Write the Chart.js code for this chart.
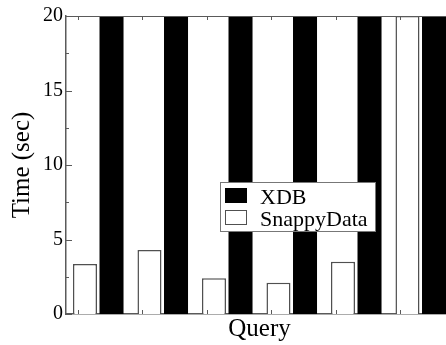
<!DOCTYPE html>
<html>
<head>
<meta charset="utf-8">
<script src="https://cdn.jsdelivr.net/npm/chart.js@4.4.0/dist/chart.umd.min.js"></script>
<style>
  html, body { margin: 0; padding: 0; background: #fff; overflow: hidden; width: 446px; height: 345px; }
  canvas { display: block; }
</style>
</head>
<body>
<canvas id="chart" width="453" height="345"></canvas>
<script>
// data
const queries = ['1', '2', '3', '4', '5', '6'];
const snappyData = [3.35, 4.3, 2.4, 2.1, 3.5, 20];
const xdb = [20, 20, 20, 20, 20, 20];
const yTicks = [0, 5, 10, 15, 20];

const serif = 'Liberation Serif';
const axisColor = '#5a5a5a';

// frame, inside ticks and the legend box in the middle
const framePlugin = {
  id: 'frame',
  afterDatasetsDraw(chart) {
    const ctx = chart.ctx;
    const a = chart.chartArea;
    const x = chart.scales.x;
    const y = chart.scales.y;
    ctx.save();
    ctx.strokeStyle = axisColor;
    ctx.lineWidth = 1;

    // top border
    ctx.beginPath();
    ctx.moveTo(a.left, a.top + 0.5);
    ctx.lineTo(a.right, a.top + 0.5);
    ctx.stroke();

    // y ticks pointing in, minor every 2.5
    for (let v = 0; v <= 20; v += 2.5) {
      const py = Math.round(y.getPixelForValue(v)) + 0.5;
      const len = v % 5 === 0 ? 6 : 3;
      ctx.beginPath();
      ctx.moveTo(a.left, py);
      ctx.lineTo(a.left + len, py);
      ctx.stroke();
    }

    // x ticks, top and bottom
    const step = x.width / queries.length;
    queries.forEach(function (q, i) {
      const px = Math.round(x.getPixelForValue(i) - step * 0.315) + 0.5;
      ctx.beginPath();
      ctx.moveTo(px, a.bottom);
      ctx.lineTo(px, a.bottom - 4);
      ctx.moveTo(px, a.top);
      ctx.lineTo(px, a.top + 4);
      ctx.stroke();
    });
    ctx.restore();
  },
  afterDraw(chart) {
    const ctx = chart.ctx;
    const sets = chart.data.datasets.slice().reverse();
    ctx.save();
    ctx.fillStyle = '#fff';
    ctx.fillRect(220, 182, 155, 49);
    ctx.strokeStyle = '#777';
    ctx.lineWidth = 1;
    ctx.strokeRect(220.5, 182.5, 155, 49);

    ctx.font = '22px "' + serif + '"';
    ctx.textBaseline = 'alphabetic';
    sets.forEach(function (ds, i) {
      const top = 188 + i * 22;
      ctx.fillStyle = ds.backgroundColor;
      ctx.fillRect(225, top, 22, 15);
      if (ds.borderWidth) {
        ctx.strokeStyle = ds.borderColor;
        ctx.lineWidth = 1;
        ctx.strokeRect(225.5, top + 0.5, 21, 14);
      }
      ctx.fillStyle = '#000';
      ctx.fillText(ds.label, 260, top + 16);
    });
    ctx.restore();
  }
};

new Chart(document.getElementById('chart'), {
  type: 'bar',
  data: {
    labels: queries,
    datasets: [
      {
        label: 'SnappyData',
        data: snappyData,
        backgroundColor: '#fff',
        borderColor: '#505050',
        borderWidth: 1.5
      },
      {
        label: 'XDB',
        data: xdb,
        backgroundColor: '#000',
        borderWidth: 0
      }
    ]
  },
  options: {
    responsive: false,
    animation: false,
    datasets: {
      bar: {
        categoryPercentage: 0.823,
        barPercentage: 0.905
      }
    },
    layout: {
      padding: { top: 16, right: 0, bottom: 0, left: 0 }
    },
    plugins: {
      legend: { display: false },
      tooltip: { enabled: false }
    },
    scales: {
      x: {
        grid: { display: false, drawTicks: false },
        border: { display: true, color: axisColor, width: 1.5 },
        ticks: { display: false },
        title: {
          display: true,
          text: 'Query',
          color: '#000',
          font: { family: serif, size: 25 },
          padding: { top: 0, bottom: 1 }
        },
        afterFit(scale) { scale.height = 31; }
      },
      y: {
        min: 0,
        max: 20,
        afterBuildTicks(scale) {
          scale.ticks = yTicks.map(function (v) { return { value: v }; });
        },
        ticks: {
          padding: 3,
          color: '#000',
          font: { family: serif, size: 20 }
        },
        grid: { display: false, drawTicks: false },
        border: { display: true, color: axisColor, width: 1.5 },
        title: {
          display: true,
          text: 'Time (sec)',
          color: '#000',
          font: { family: serif, size: 25 },
          padding: { top: 7, bottom: 0 }
        },
        afterFit(scale) { scale.width = 66; }
      }
    }
  },
  plugins: [framePlugin]
});
</script>
</body>
</html>
